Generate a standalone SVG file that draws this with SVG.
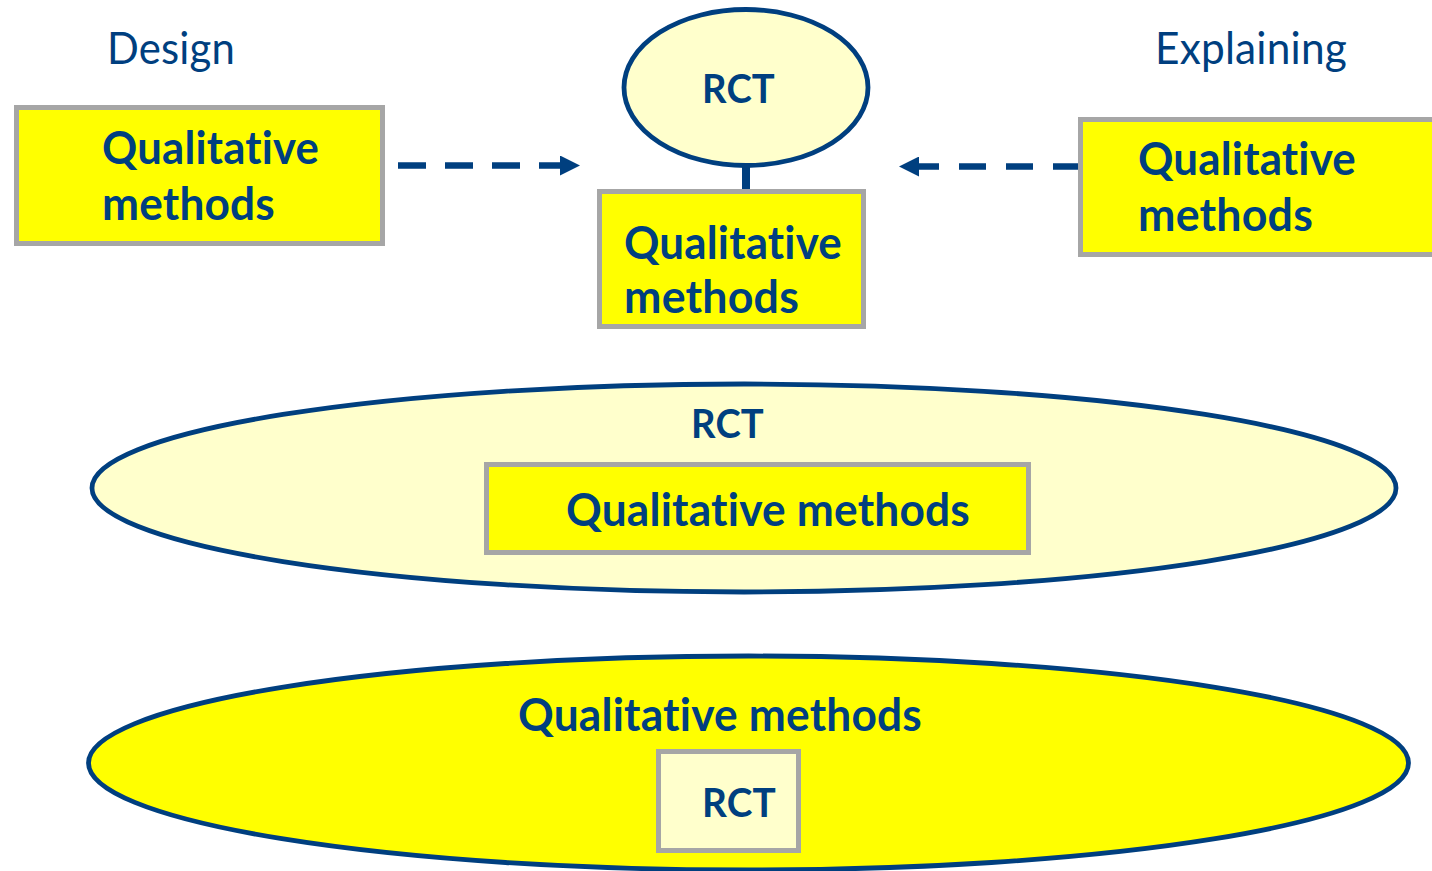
<svg xmlns="http://www.w3.org/2000/svg" width="1432" height="871" viewBox="0 0 1432 871">
  <style>
    .bg { fill: #ffffff; }
    .box { fill: #ffff00; stroke: #a6a6a6; stroke-width: 5; }
    .box-light { fill: #ffffcc; stroke: #a6a6a6; stroke-width: 5; }
    .oval-light { fill: #ffffcc; stroke: #003f7f; stroke-width: 4.8; }
    .oval-bright { fill: #ffff00; stroke: #003f7f; stroke-width: 4.8; }
    text { font-family: "Lato", "Liberation Sans", sans-serif; fill: #003f7f; font-variant-ligatures: none; font-feature-settings: "liga" 0, "clig" 0, "dlig" 0; letter-spacing: 0.2px; }
    .label { font-weight: bold; font-size: 46px; }
    .acronym { font-weight: bold; font-size: 41px; }
    .heading { font-weight: normal; font-size: 45px; }
    .dash-left { fill: none; stroke: #003f7f; stroke-width: 6.5; stroke-dasharray: 28 19; }
    .dash-right { fill: none; stroke: #003f7f; stroke-width: 6.5; stroke-dasharray: 27 20; }
    .stem { fill: none; stroke: #003f7f; stroke-width: 8; }
  </style>
  <defs>
    <marker id="head" markerUnits="userSpaceOnUse" viewBox="0 0 20 20" markerWidth="20" markerHeight="20" refX="2" refY="10" orient="auto">
      <path d="M0,0 L20,10 L0,20 z" fill="#003f7f"/>
    </marker>
  </defs>

  <rect class="bg" x="0" y="0" width="1432" height="871"/>

  <!-- column headings -->
  <g id="heading-design">
    <text class="heading" x="107" y="64" textLength="128" lengthAdjust="spacingAndGlyphs">Design</text>
  </g>
  <g id="heading-explaining">
    <text class="heading" x="1155" y="64" textLength="192" lengthAdjust="spacingAndGlyphs">Explaining</text>
  </g>

  <!-- connectors -->
  <g id="connectors">
    <path class="dash-left" d="M398,165.5 L562,165.5" marker-end="url(#head)"/>
    <path class="dash-right" d="M1080,166.5 L917,166.5" marker-end="url(#head)"/>
    <path class="stem" d="M746,164 L746,192"/>
  </g>

  <!-- top row: design stage -->
  <g id="qual-design">
    <rect class="box" x="16.5" y="107.5" width="366" height="136"/>
    <text class="label" x="102" y="164" textLength="217" lengthAdjust="spacingAndGlyphs">Qualitative</text>
    <text class="label" x="102" y="220" textLength="173" lengthAdjust="spacingAndGlyphs">methods</text>
  </g>

  <!-- top row: trial with embedded qualitative work -->
  <g id="rct-top">
    <ellipse class="oval-light" cx="746" cy="87.5" rx="122" ry="78"/>
    <text class="acronym" x="702" y="103" textLength="73" lengthAdjust="spacingAndGlyphs">RCT</text>
  </g>
  <g id="qual-during">
    <rect class="box" x="599.5" y="191.5" width="264" height="135"/>
    <text class="label" x="624" y="259" textLength="218" lengthAdjust="spacingAndGlyphs">Qualitative</text>
    <text class="label" x="624" y="313" textLength="175" lengthAdjust="spacingAndGlyphs">methods</text>
  </g>

  <!-- top row: explaining stage -->
  <g id="qual-explaining">
    <rect class="box" x="1080.5" y="119.5" width="370" height="135"/>
    <text class="label" x="1138" y="175" textLength="218" lengthAdjust="spacingAndGlyphs">Qualitative</text>
    <text class="label" x="1138" y="231" textLength="175" lengthAdjust="spacingAndGlyphs">methods</text>
  </g>

  <!-- middle row: qualitative methods nested in the trial -->
  <g id="rct-container">
    <ellipse class="oval-light" cx="744" cy="488" rx="652" ry="104"/>
    <text class="acronym" x="691" y="438" textLength="73" lengthAdjust="spacingAndGlyphs">RCT</text>
  </g>
  <g id="qual-nested">
    <rect class="box" x="486.5" y="464.5" width="542" height="88"/>
    <text class="label" x="566" y="526" textLength="404" lengthAdjust="spacingAndGlyphs">Qualitative methods</text>
  </g>

  <!-- bottom row: trial nested in qualitative methods -->
  <g id="qual-container">
    <ellipse class="oval-bright" cx="748.5" cy="763" rx="660" ry="107"/>
    <text class="label" x="518" y="731" textLength="404" lengthAdjust="spacingAndGlyphs">Qualitative methods</text>
  </g>
  <g id="rct-nested">
    <rect class="box-light" x="658.5" y="751.5" width="140" height="99"/>
    <text class="acronym" x="702" y="817" textLength="74" lengthAdjust="spacingAndGlyphs">RCT</text>
  </g>
</svg>
